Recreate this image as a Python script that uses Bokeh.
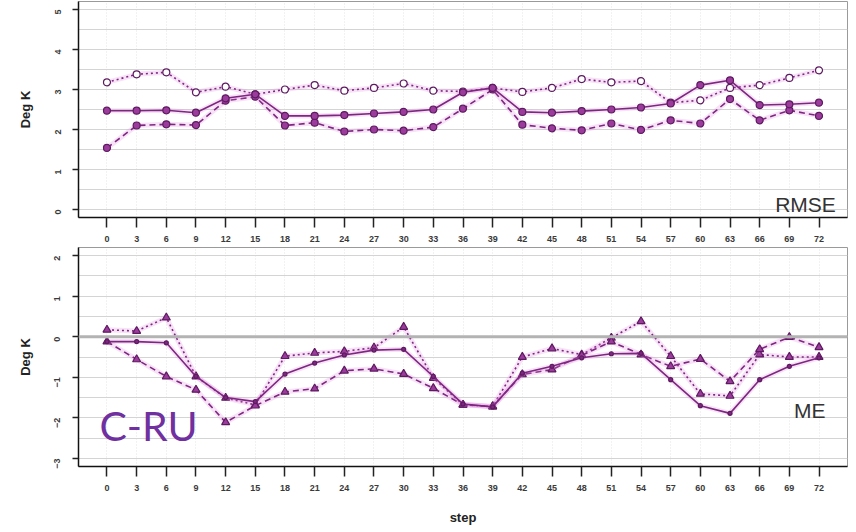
import math
from bokeh.plotting import figure
from bokeh.layouts import column
from bokeh.models import FixedTicker, Span, Label, Range1d
from bokeh.embed import file_html
from bokeh.resources import INLINE

# forecast step (hours)
steps = list(range(0, 73, 3))

# RMSE panel (Deg K)
rmse_solid = [2.47, 2.47, 2.48, 2.42, 2.78, 2.88, 2.34, 2.34, 2.36, 2.40, 2.44, 2.50, 2.93,
              3.04, 2.44, 2.42, 2.46, 2.50, 2.55, 2.65, 3.11, 3.23, 2.61, 2.63, 2.67]
rmse_dashed = [1.54, 2.10, 2.13, 2.11, 2.72, 2.82, 2.10, 2.17, 1.95, 2.00, 1.97, 2.06, 2.52,
               3.00, 2.12, 2.03, 1.98, 2.15, 1.99, 2.23, 2.15, 2.76, 2.23, 2.48, 2.34]
rmse_dotted = [3.18, 3.38, 3.43, 2.93, 3.07, 2.88, 3.00, 3.11, 2.97, 3.04, 3.15, 2.97, 2.95,
               3.04, 2.94, 3.04, 3.26, 3.18, 3.21, 2.67, 2.73, 3.04, 3.11, 3.29, 3.48]

# ME panel (Deg K)
me_solid = [-0.12, -0.12, -0.15, -0.98, -1.50, -1.60, -0.92, -0.65, -0.45, -0.33, -0.31, -0.98,
            -1.66, -1.73, -0.90, -0.73, -0.52, -0.42, -0.41, -1.06, -1.70, -1.89, -1.06, -0.73, -0.52]
me_dashed = [-0.12, -0.56, -0.98, -1.31, -2.11, -1.70, -1.36, -1.28, -0.84, -0.79, -0.92, -1.27,
             -1.68, -1.72, -0.93, -0.81, -0.46, -0.12, -0.44, -0.73, -0.55, -1.10, -0.31, -0.01, -0.26]
me_dotted = [0.17, 0.14, 0.47, -0.98, -1.51, -1.68, -0.48, -0.40, -0.36, -0.27, 0.24, -1.02,
             -1.68, -1.72, -0.50, -0.29, -0.44, -0.03, 0.38, -0.48, -1.41, -1.46, -0.44, -0.50, -0.50]

rmse_ticks = [0, 1, 2, 3, 4, 5]
me_ticks = [-3, -2, -1, 0, 1, 2]

LINE = "#7e2781"
FILL = "#9b3c9c"
EDGE = "#5e1a60"
HALO = "#e58ae0"
FONT = "Liberation Sans"


def panel(y_lo, y_hi, yticks, height, border_top, border_bottom, xlabel=None):
    p = figure(width=856, height=height, output_backend="svg", toolbar_location=None,
               x_range=Range1d(-2.88, 74.88), y_range=Range1d(y_lo, y_hi),
               min_border_left=78, min_border_right=9, min_border_top=border_top,
               min_border_bottom=border_bottom)
    p.background_fill_color = "white"
    p.border_fill_color = "white"
    p.outline_line_color = "#9a9a9a"
    p.outline_line_width = 1

    # horizontal grid every half unit, faint dotted verticals at each step tick
    half = [v / 2 for v in range(int(y_lo * 2) - 1, int(y_hi * 2) + 2)]
    p.ygrid.ticker = FixedTicker(ticks=half)
    p.ygrid.grid_line_color = "#d4d4d4"
    p.ygrid.grid_line_width = 1
    p.xgrid.ticker = FixedTicker(ticks=steps)
    p.xgrid.grid_line_color = "#e4e4e4"
    p.xgrid.grid_line_dash = "1 2"

    p.xaxis.ticker = FixedTicker(ticks=steps)
    p.yaxis.ticker = FixedTicker(ticks=yticks)
    for ax in (p.xaxis, p.yaxis):
        ax.axis_line_color = "#111111"
        ax.axis_line_width = 1.5
        ax.major_tick_line_color = "#222222"
        ax.major_tick_line_width = 1.5
        ax.major_tick_in = 0
        ax.minor_tick_line_color = None
        ax.major_label_text_font = FONT
        ax.major_label_text_font_size = "9px"
        ax.major_label_text_font_style = "bold"
        ax.major_label_text_color = "#3a3a3a"
        ax.axis_label_text_font = FONT
        ax.axis_label_text_font_style = "bold"
        ax.axis_label_text_font_size = "13px"
        ax.axis_label_text_color = "#222222"
    p.xaxis.major_tick_out = 10
    p.xaxis.major_label_standoff = 8
    p.yaxis.major_tick_out = 6
    p.yaxis.major_label_standoff = 15
    p.yaxis.major_label_orientation = math.pi / 2
    p.yaxis.axis_label = "Deg K"
    p.yaxis.axis_label_standoff = 16
    if xlabel:
        p.xaxis.axis_label = xlabel
        p.xaxis.axis_label_standoff = 16
    return p


def series(p, ys, dash, marker, size, fill):
    p.line(steps, ys, line_color=HALO, line_width=5, line_alpha=0.25)
    p.line(steps, ys, line_color=LINE, line_width=1.6, line_dash=dash)
    p.scatter(steps, ys, marker=marker, size=size, fill_color=fill,
              line_color=EDGE, line_width=1.2)


top = panel(-0.2, 5.2, rmse_ticks, 244, 1, 27)
series(top, rmse_dotted, "2 3", "circle", 7, "white")
series(top, rmse_dashed, "6 4", "circle", 7, FILL)
series(top, rmse_solid, "solid", "circle", 7, FILL)
top.add_layout(Label(x=73.7, y=0.12, text="RMSE", text_align="right",
                     text_baseline="alphabetic", text_font=FONT,
                     text_font_size="21px", text_color="#333333"))

bottom = panel(-3.2, 2.2, me_ticks, 286, 3, 64, xlabel="step")
bottom.add_layout(Span(location=0, dimension="width", line_color="#b3b3b3", line_width=3))
series(bottom, me_dotted, "2 3", "triangle", 8, FILL)
series(bottom, me_dashed, "6 4", "triangle", 8, FILL)
series(bottom, me_solid, "solid", "circle", 4, LINE)
bottom.add_layout(Label(x=72.65, y=-1.83, text="ME", text_align="right",
                        text_baseline="alphabetic", text_font=FONT,
                        text_font_size="21px", text_color="#333333"))
bottom.add_layout(Label(x=-0.76, y=-2.2, text="C-RU", text_align="left",
                        text_baseline="alphabetic", text_font="Lato",
                        text_font_size="41px", text_color="#7030a0"))

layout = column(top, bottom, spacing=0)
open("out.html", "w").write(file_html(layout, INLINE))
